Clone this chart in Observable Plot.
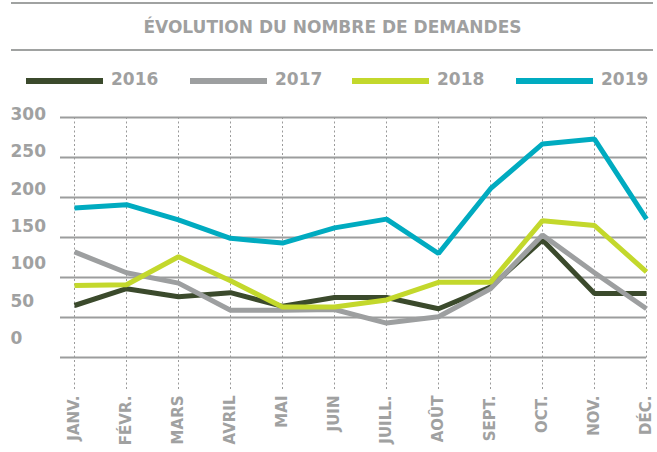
<!DOCTYPE html>
<html>
<head>
<meta charset="utf-8">
<script src="https://cdn.jsdelivr.net/npm/d3@7"></script>
<script src="https://cdn.jsdelivr.net/npm/@observablehq/plot@0.6"></script>
<style>
  html, body { margin: 0; padding: 0; background: #fff; }
  body { width: 657px; height: 452px; overflow: hidden; font-family: "DejaVu Sans", sans-serif; font-weight: bold; }
  #head { position: relative; width: 657px; height: 95px; }
  .rule { position: absolute; left: 11px; width: 642px; height: 2px; background: #a0a2a1; }
  #title { position: absolute; top: 16.5px; left: 0; width: 665px; text-align: center; font-size: 17px; line-height: 20px; color: #9fa0a0; white-space: nowrap; }
  .item { position: absolute; top: 0; height: 95px; }
  .sw { position: absolute; top: 78px; left: 0; width: 77px; height: 6px; }
  .lab { position: absolute; top: 69px; left: 85px; font-size: 17px; line-height: 20px; color: #9fa0a0; white-space: nowrap; }
  svg { display: block; }
</style>
</head>
<body>
<div id="head">
  <div class="rule" style="top:2px"></div>
  <div id="title">ÉVOLUTION DU NOMBRE DE DEMANDES</div>
  <div class="rule" style="top:49px"></div>
</div>
<div id="chart"></div>
<script>
const months = ["JANV.", "FÉVR.", "MARS", "AVRIL", "MAI", "JUIN", "JUILL.", "AOÛT", "SEPT.", "OCT.", "NOV.", "DÉC."];
const years = ["2016", "2017", "2018", "2019"];
const colors = ["#3b4a2c", "#9d9fa0", "#c3d82c", "#00abc0"];
const v2016 = [65, 86, 76, 81, 64, 75, 75, 61, 88, 147, 80, 80];
const v2017 = [132, 106, 93, 59, 59, 60, 43, 51, 86, 153, 106, 61];
const v2018 = [90, 91, 126, 96, 63, 63, 72, 94, 94, 171, 165, 107];
const v2019 = [187, 191, 172, 149, 143, 162, 173, 130, 211, 267, 273, 173];
const yTicks = [0, 50, 100, 150, 200, 250, 300];

const series = [v2016, v2017, v2018, v2019];
const data = [];
series.forEach((vals, i) => vals.forEach((v, j) => data.push({year: years[i], month: months[j], value: v})));

// legend
const head = document.getElementById("head");
const legendLeft = [26, 190, 352, 516];
years.forEach((y, i) => {
  const it = document.createElement("div");
  it.className = "item";
  it.style.left = legendLeft[i] + "px";
  it.innerHTML = `<div class="sw" style="background:${colors[i]}"></div><div class="lab">${y}</div>`;
  head.appendChild(it);
});

// label positions drift upward relative to gridlines in the original design
const labelPos = v => 23.75 + v * (280 / 300);

const chart = Plot.plot({
  width: 657,
  height: 357,
  marginTop: 22,
  marginBottom: 95,
  marginLeft: 60,
  marginRight: 11,
  style: {fontFamily: "DejaVu Sans, sans-serif", fontWeight: "bold", fontSize: "15px", color: "#a0a1a1", background: "#fff"},
  x: {type: "point", domain: months, padding: 0, insetLeft: 14, tickRotate: -90, tickSize: 0, tickPadding: 38, label: null},
  y: {domain: [0, 300], axis: null},
  color: {domain: years, range: colors},
  marks: [
    Plot.ruleX(months, {x: d => d, stroke: "#9a9a9a", strokeWidth: 1, strokeDasharray: "2,2.5", insetBottom: -33}),
    Plot.ruleY(yTicks, {y: d => d, stroke: "#9c9d9d", strokeWidth: 2}),
    Plot.text(yTicks, {y: d => labelPos(d), text: d => String(d), frameAnchor: "left", textAnchor: "start", dx: -50, fontSize: 17, fill: "#a0a1a1"}),
    Plot.line(data, {x: "month", y: "value", z: "year", stroke: "year", strokeWidth: 5, strokeLinejoin: "miter", strokeLinecap: "butt"})
  ]
});
document.getElementById("chart").appendChild(chart);
</script>
</body>
</html>
